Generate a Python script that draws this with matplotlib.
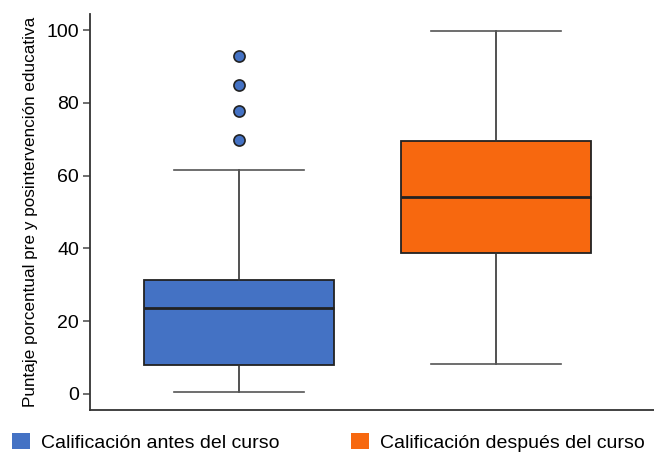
import matplotlib
matplotlib.use("Agg")
import matplotlib.pyplot as plt
from matplotlib.patches import Patch
from matplotlib import font_manager

fams = [f.name for f in font_manager.fontManager.ttflist]
font = "Liberation Sans Narrow" if "Liberation Sans Narrow" in fams else "Liberation Sans"
plt.rcParams['font.family'] = [font, 'DejaVu Sans']

labels = ["Calificación antes del curso", "Calificación después del curso"]
colors = ["#4472C4", "#F7680F"]
whislo = [0.5, 8.2]
q1 = [8.0, 38.7]
med = [23.6, 54.1]
q3 = [31.3, 69.5]
whishi = [61.5, 99.7]
fliers = [[92.9, 84.9, 77.7, 69.8], []]
yticks = [0, 20, 40, 60, 80, 100]
ylabel = "Puntaje porcentual pre y posintervención educativa"

stats = []
for i in range(2):
    stats.append(dict(label=labels[i], whislo=whislo[i], q1=q1[i], med=med[i],
                      q3=q3[i], whishi=whishi[i], fliers=fliers[i]))

fig = plt.figure(figsize=(6.54, 4.54), dpi=100)
ax = fig.add_axes([90/654, 44/454, 564/654, 396/454])
bp = ax.bxp(stats, positions=[1, 2], widths=0.74, patch_artist=True,
            showfliers=True,
            boxprops=dict(edgecolor="#222222", linewidth=1.3),
            medianprops=dict(color="#222222", linewidth=2),
            whiskerprops=dict(color="#333333", linewidth=1.2),
            capprops=dict(color="#555555", linewidth=1.2),
            flierprops=dict(marker="o", markerfacecolor=colors[0],
                            markeredgecolor="#222222", markersize=8,
                            markeredgewidth=1.2))
for b, c in zip(bp["boxes"], colors):
    b.set_facecolor(c)
for c in bp["caps"]:
    xd = c.get_xdata()
    m = (xd[0] + xd[1]) / 2
    c.set_xdata([m - 0.253, m + 0.253])

ax.set_xlim(0.42, 2.615)
ax.set_ylim(-4.4, 104.4)
ax.set_yticks(yticks)
ax.set_xticks([])
ax.tick_params(axis="y", labelsize=14, length=5, color="#555555", width=1.2, pad=3)
ax.set_ylabel(ylabel, fontsize=12.3, labelpad=6)
for s in ["top", "right"]:
    ax.spines[s].set_visible(False)
for s in ["left", "bottom"]:
    ax.spines[s].set_color("#333333")
    ax.spines[s].set_linewidth(1.3)

handles = [Patch(facecolor=c, edgecolor="none") for c in colors]
fig.legend(handles, labels, loc="lower left", bbox_to_anchor=(12/654, 2/454),
           ncol=2, frameon=False, fontsize=14.0, handlelength=0.92,
           handleheight=0.92, handletextpad=0.55, columnspacing=3.7,
           borderpad=0, borderaxespad=0)

fig.savefig("out.png", dpi=100)
